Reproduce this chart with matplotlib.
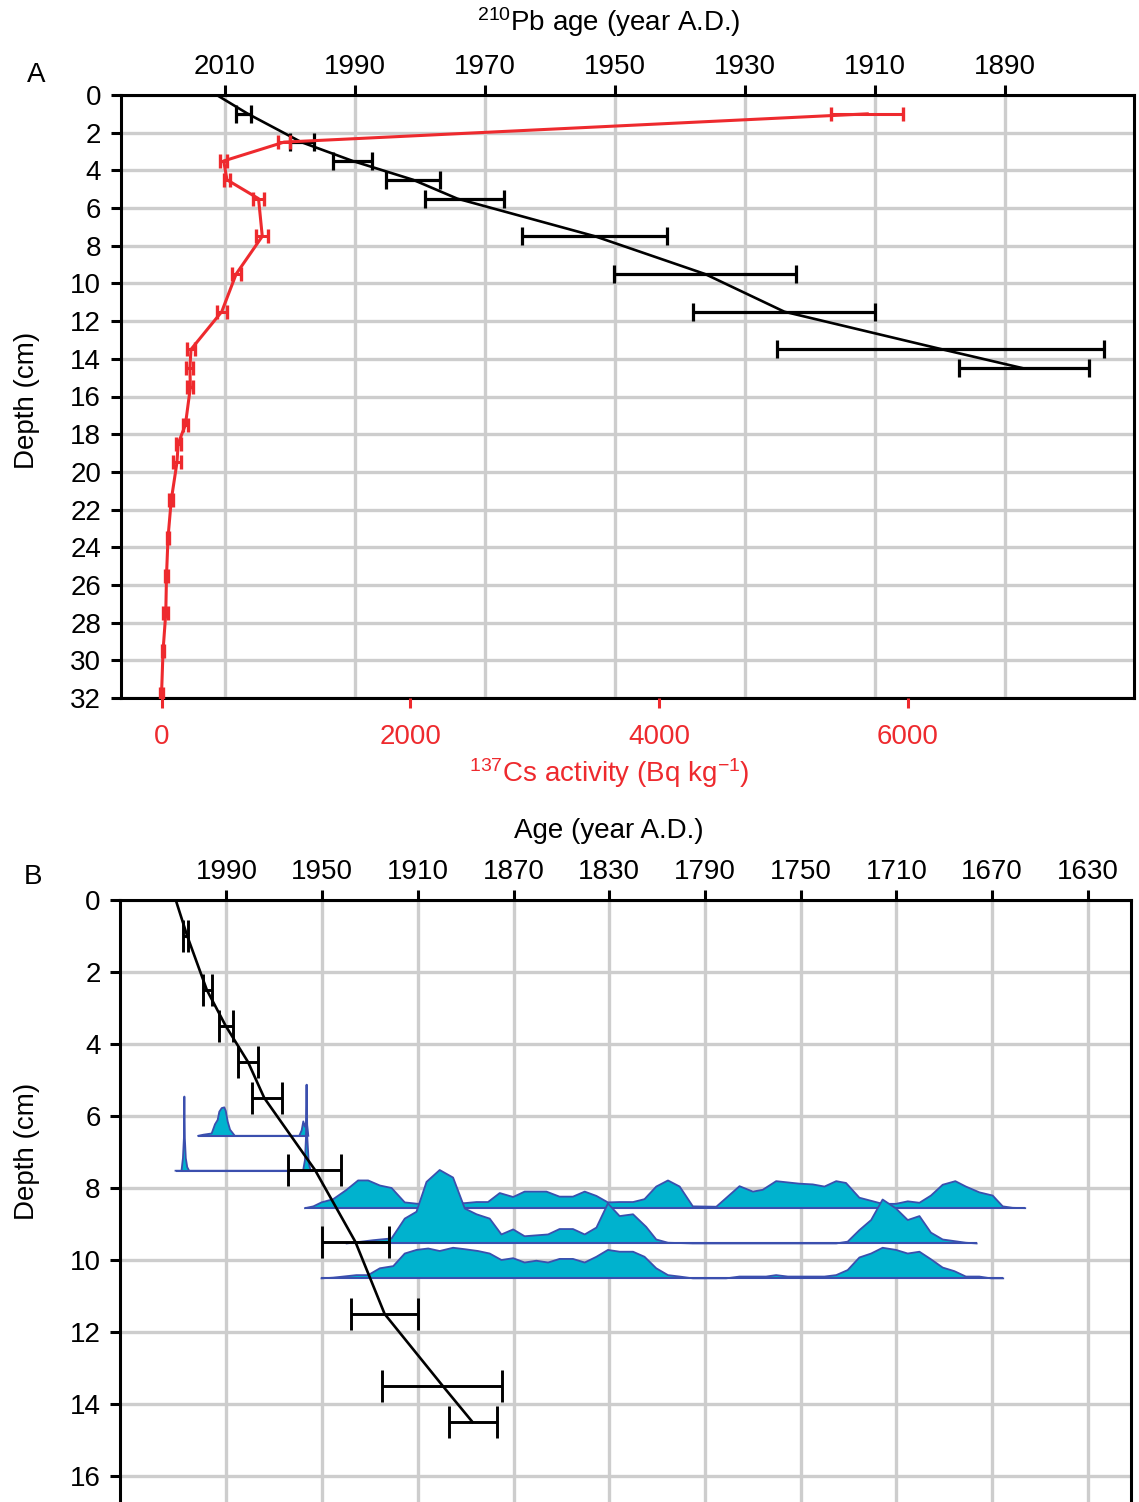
import matplotlib.pyplot as plt

# --- style ---
plt.rcParams['font.family'] = ['Liberation Sans', 'DejaVu Sans']
plt.rcParams['mathtext.default'] = 'regular'
plt.rcParams['font.size'] = 20

RED = '#ee2a2e'
GRID = '#cdcdcd'
FILL = '#00b2ce'
EDGE = '#3b4fae'

# --- 210Pb ages (CRS) ---
pb_depth = [1.0, 2.5, 3.5, 4.5, 5.5, 7.5, 9.5, 11.5, 13.5, 14.5]
pb_age = [2007.1, 1998.1, 1990.3, 1981.0, 1973.1, 1953.1, 1936.1, 1923.9, 1899.9, 1887.0]
pb_err = [1.1, 1.9, 3.0, 4.1, 6.1, 11.1, 14.0, 14.0, 25.1, 10.0]

# age-depth model
model_depth = [0, 1.0, 2.5, 3.5, 4.5, 5.5, 7.5, 9.5, 11.5, 13.5, 14.5]
model_age = [2011.2, 2006.4, 1998.2, 1990.3, 1981.0, 1974.2, 1953.0, 1936.1, 1923.9, 1899.6, 1887.2]

# --- 137Cs activity ---
cs_depth = [1.0, 2.5, 3.5, 4.5, 5.5, 7.5, 9.5, 11.5, 13.5, 14.5, 15.5, 17.5, 18.5, 19.5,
            21.5, 23.5, 25.5, 27.5, 29.5, 31.8]
cs_act = [5675, 985, 500, 526, 780, 810, 600, 484, 237, 228, 232, 192, 134, 124,
          78, 52, 40, 34, 12, 0]
cs_err = [290, 50, 30, 25, 45, 50, 36, 40, 31, 29, 25, 18, 20, 30,
          15, 12, 12, 20, 10, 10]

# --- calibrated 14C age distributions (panel B) ---
dist_base = [6.55, 7.52, 8.56, 9.54, 10.51]

d1_age = [2001.8, 1999.7, 1996.2, 1994.8, 1993.7, 1993.0, 1992.0, 1990.9, 1990.3, 1989.5,
          1988.5, 1987.1, 1986.5, 1959.6, 1958.6, 1957.9, 1957.2, 1956.7, 1956.5, 1956.3, 1955.8]
d1_h = [0, 0.03, 0.065, 0.32, 0.44, 0.67, 0.77, 0.79, 0.69, 0.40,
        0.17, 0.05, 0, 0, 0.15, 0.40, 0.25, 0.40, 1.42, 0.30, 0]

d2_age = [2011.3, 2008.8, 2008.2, 2007.8, 2007.6, 2007.4, 2007.0, 2006.4, 2005.6,
          1958.0, 1957.2, 1956.8, 1956.5, 1956.2, 1955.6, 1954.8, 1953.9]
d2_h = [0, 0, 0.35, 0.9, 2.06, 0.9, 0.35, 0.1, 0,
        0, 0.3, 0.9, 2.38, 0.9, 0.2, 0, 0]

d3_age = [1957.2, 1953.7, 1950.3, 1945.4, 1939.8, 1935.0, 1930.8, 1925.9, 1921.0, 1915.5,
          1909.9, 1900.0, 1890.4, 1885.5, 1880.7, 1875.8, 1870.2, 1865.4, 1856.3, 1850.8,
          1845.2, 1840.3, 1835.4, 1830.6, 1825.7, 1820.1, 1815.3, 1810.4, 1805.5, 1800.6,
          1795.1, 1785.3, 1775.6, 1770.0, 1765.9, 1760.3, 1750.5, 1745.0, 1740.1, 1735.2,
          1731.1, 1725.5, 1715.8, 1710.2, 1705.3, 1700.4, 1695.6, 1690.7, 1685.4, 1681.0,
          1675.4, 1669.8, 1665.6, 1661.5, 1656.2]
d3_h = [0, 0.05, 0.16, 0.25, 0.51, 0.77, 0.77, 0.63, 0.56, 0.16,
        0.12, 0.13, 0.14, 0.17, 0.17, 0.42, 0.31, 0.46, 0.46, 0.32,
        0.32, 0.46, 0.34, 0.16, 0.17, 0.17, 0.25, 0.60, 0.77, 0.60,
        0.05, 0.04, 0.61, 0.46, 0.51, 0.75, 0.68, 0.66, 0.60, 0.75,
        0.70, 0.29, 0.12, 0.12, 0.19, 0.15, 0.35, 0.65, 0.75, 0.60,
        0.44, 0.35, 0.05, 0.01, 0]

d4_age = [1939.8, 1928.7, 1921.0, 1915.5, 1910.6, 1906.4, 1900.9, 1895.3, 1890.4, 1885.5,
          1880.0, 1875.1, 1870.2, 1865.4, 1855.6, 1850.8, 1845.2, 1840.3, 1835.4, 1830.6,
          1825.7, 1820.1, 1814.6, 1810.4, 1805.5, 1795.1, 1735.2, 1730.4, 1725.5, 1720.6,
          1715.8, 1710.2, 1705.3, 1700.4, 1695.6, 1690.7, 1681.0, 1676.5]
d4_h = [0, 0.09, 0.14, 0.69, 0.88, 1.71, 2.04, 1.83, 0.97, 0.81,
        0.69, 0.25, 0.39, 0.20, 0.25, 0.40, 0.40, 0.25, 0.44, 1.11,
        0.76, 0.81, 0.46, 0.11, 0.02, 0, 0, 0.05, 0.37, 0.65,
        1.22, 0.97, 0.65, 0.76, 0.30, 0.11, 0.02, 0]

d5_age = [1950.3, 1945.4, 1935.7, 1930.8, 1925.9, 1920.3, 1915.5, 1910.6, 1905.7, 1900.9,
          1895.3, 1890.4, 1884.9, 1880.0, 1875.1, 1870.2, 1865.4, 1860.5, 1855.6, 1850.8,
          1845.2, 1840.3, 1835.4, 1830.6, 1825.7, 1820.1, 1815.3, 1810.4, 1805.5, 1800.6,
          1795.1, 1781.2, 1775.6, 1764.5, 1760.3, 1755.4, 1740.1, 1735.2, 1730.4, 1725.5,
          1720.6, 1715.8, 1710.2, 1705.3, 1700.4, 1695.6, 1690.7, 1685.8, 1681.0, 1675.4,
          1670.5, 1665.4]
d5_h = [0, 0.02, 0.09, 0.09, 0.28, 0.34, 0.69, 0.79, 0.83, 0.76,
        0.85, 0.81, 0.76, 0.69, 0.51, 0.56, 0.44, 0.49, 0.44, 0.54,
        0.54, 0.44, 0.60, 0.79, 0.74, 0.74, 0.60, 0.28, 0.09, 0.05,
        0, 0, 0.05, 0.05, 0.09, 0.05, 0.05, 0.09, 0.23, 0.58,
        0.69, 0.85, 0.79, 0.69, 0.74, 0.53, 0.30, 0.20, 0.05, 0.05,
        0, 0]

pb_ticks = [2010, 1990, 1970, 1950, 1930, 1910, 1890]
cs_ticks = [0, 2000, 4000, 6000]
age_ticks = [1990, 1950, 1910, 1870, 1830, 1790, 1750, 1710, 1670, 1630]

W, H = 1139, 1502


def fx(px):
    return px / W


def fy(py):
    return 1 - py / H


def style_axes(ax):
    for s in ax.spines.values():
        s.set_linewidth(2.2)
        s.set_color('black')
    ax.grid(True, color=GRID, lw=2.4)
    ax.set_axisbelow(True)
    ax.xaxis.set_ticks_position('top')
    ax.tick_params(axis='x', direction='out', length=7, width=2.2, pad=4,
                   top=True, bottom=False, labeltop=True, labelbottom=False, labelsize=20)
    ax.tick_params(axis='y', direction='out', length=7, width=2.2, pad=7, labelsize=20)


fig = plt.figure(figsize=(W / 100, H / 100), dpi=100)

# --- Panel A ---
axA = fig.add_axes([fx(120.5), fy(698), fx(1133.5) - fx(120.5), fy(95) - fy(698)])
axCs = axA.twiny()   # twiny moves axA's ticks to the bottom, so style axA afterwards

axA.set_xlim(2026.0, 1870.2)
axA.set_ylim(32, 0)
axA.set_xticks(pb_ticks)
axA.set_yticks(range(0, 33, 2))
style_axes(axA)

axA.plot(model_age, model_depth, color='black', lw=1.9, zorder=3)
axA.errorbar(pb_age, pb_depth, xerr=pb_err, fmt='none', ecolor='black',
             elinewidth=2.3, capsize=6.5, capthick=2.3, zorder=3)

axCs.set_xlim(-330, 7816)
axCs.xaxis.set_ticks_position('bottom')
axCs.set_xticks(cs_ticks)
axCs.tick_params(axis='x', direction='out', length=7, width=2.2, pad=12,
                 top=False, labeltop=False, bottom=True, labelbottom=True,
                 colors=RED, labelsize=20)
for s in axCs.spines.values():
    s.set_visible(False)
axCs.errorbar(cs_act, cs_depth, xerr=cs_err, color=RED, lw=2.2,
              capsize=5, capthick=2.4, zorder=4)

# --- Panel B ---
axB = fig.add_axes([fx(120), 0, fx(1131) - fx(120), fy(900)])
axB.set_xlim(2034.5, 1612)
axB.set_ylim(602 / 36, 0)
axB.set_xticks(age_ticks)
axB.set_yticks(range(0, 17, 2))
style_axes(axB)
axB.spines['bottom'].set_visible(False)

dists = [(d1_age, d1_h), (d2_age, d2_h), (d3_age, d3_h), (d4_age, d4_h), (d5_age, d5_h)]
for base, (ages, hs) in zip(dist_base, dists):
    tops = [base - h for h in hs]
    axB.fill_between(ages, tops, base, facecolor=FILL, edgecolor='none', zorder=2)
    axB.plot(ages, tops, color=EDGE, lw=1.3, zorder=2)
    axB.hlines(base, ages[0], ages[-1], color=EDGE, lw=1.5, zorder=2)

axB.plot(model_age, model_depth, color='black', lw=1.9, zorder=3)
axB.errorbar(pb_age, pb_depth, xerr=pb_err, fmt='none', ecolor='black',
             elinewidth=2.1, capsize=11.5, capthick=2.1, zorder=3)

# --- labels ---
fig.text(fx(36), fy(75), 'A', ha='center', va='center', fontsize=20)
fig.text(fx(33), fy(877), 'B', ha='center', va='center', fontsize=20)
fig.text(fx(609), fy(22), r'$^{210}$Pb age (year A.D.)', ha='center', va='center', fontsize=20)
fig.text(fx(609), fy(773), r'$^{137}$Cs activity (Bq kg$^{-1}$)', ha='center', va='center',
         fontsize=20, color=RED)
fig.text(fx(609), fy(831), 'Age (year A.D.)', ha='center', va='center', fontsize=20)
fig.text(fx(27), fy(400), 'Depth (cm)', ha='center', va='center', rotation=90, fontsize=20)
fig.text(fx(27), fy(1151), 'Depth (cm)', ha='center', va='center', rotation=90, fontsize=20)

fig.savefig('out.png', dpi=100)
